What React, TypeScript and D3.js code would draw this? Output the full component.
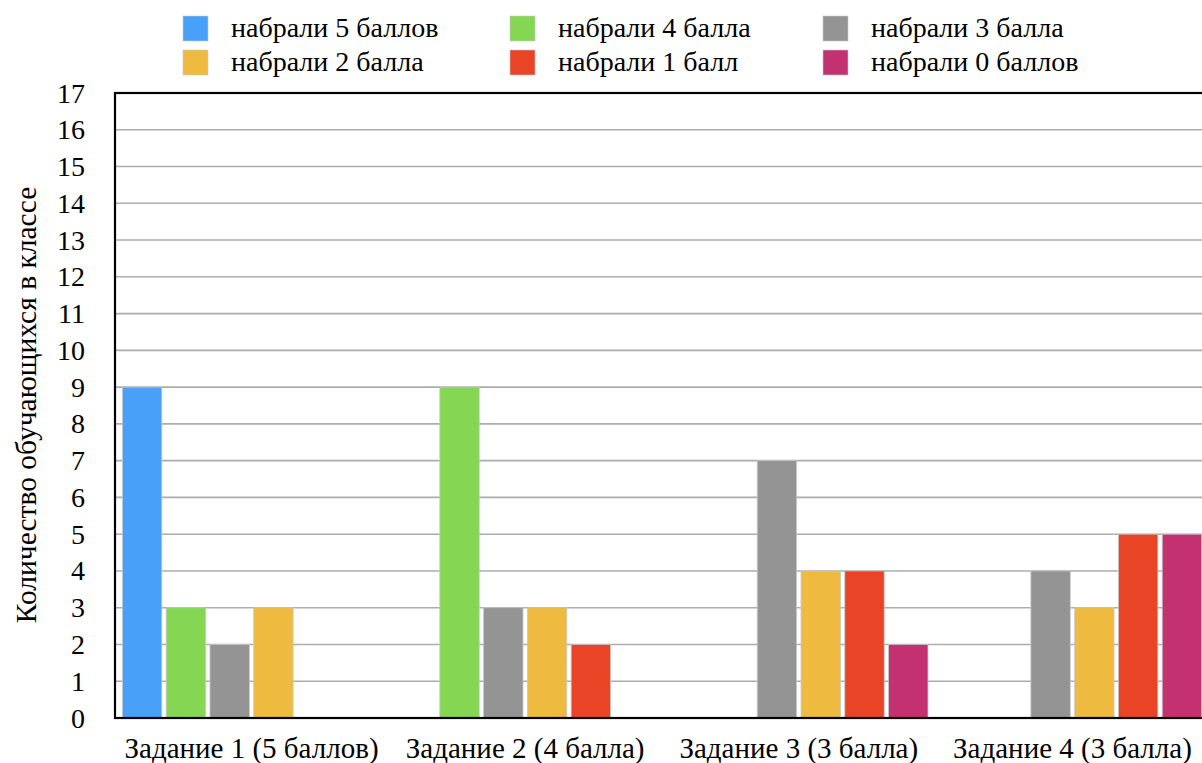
import * as d3 from 'd3';

// ── Data ──────────────────────────────────────────────────────────────────────
const CATEGORIES = [
  'Задание 1 (5 баллов)',
  'Задание 2 (4 балла)',
  'Задание 3 (3 балла)',
  'Задание 4 (3 балла)',
];
const SERIES = [
  'набрали 5 баллов',
  'набрали 4 балла',
  'набрали 3 балла',
  'набрали 2 балла',
  'набрали 1 балл',
  'набрали 0 баллов',
];
const SCORE_5 = [9, 0, 0, 0];
const SCORE_4 = [3, 9, 0, 0];
const SCORE_3 = [2, 3, 7, 4];
const SCORE_2 = [3, 3, 4, 3];
const SCORE_1 = [0, 2, 4, 5];
const SCORE_0 = [0, 0, 2, 5];
const VALUES = [SCORE_5, SCORE_4, SCORE_3, SCORE_2, SCORE_1, SCORE_0];
const Y_TICKS = d3.range(0, 18);
const Y_LABEL = 'Количество обучающихся в классе';

// ── Colors ────────────────────────────────────────────────────────────────────
const COLORS = ['#48a0f8', '#84d653', '#949494', '#eebb40', '#e94426', '#c43170'];
const GRID = '#acacac';
const FONT = "'Liberation Serif', serif";

// ── Layout ────────────────────────────────────────────────────────────────────
const VW = 1202;
const VH = 763;
const PL = 115;
const PR = 1209;
const PT = 93;
const PB = 718;

const txt = (size: number) => ({ fontFamily: FONT, fontSize: size, fill: '#000' });

export default function App() {
  const x0 = d3.scaleBand<string>()
    .domain(CATEGORIES)
    .range([PL, PR])
    .paddingInner(0.056)
    .paddingOuter(0.027);
  const x1 = d3.scaleBand<number>()
    .domain(d3.range(SERIES.length))
    .range([0, x0.bandwidth()])
    .paddingInner(0.1);
  const y = d3.scaleLinear().domain([0, 17]).range([PB, PT]);

  const legendCols = [183, 510, 823];
  const legendRows = [16, 50];

  return (
    <svg
      width={VW}
      height={VH}
      viewBox={`0 0 ${VW} ${VH}`}
      style={{ position: 'absolute', left: 0, top: 0, display: 'block', background: '#fff' }}
    >
      {/* gridlines */}
      {Y_TICKS.filter(t => t > 0 && t < 17).map(t => (
        <line key={t} x1={PL} x2={PR} y1={y(t)} y2={y(t)} stroke={GRID} strokeWidth={1.6} />
      ))}

      {/* y tick labels */}
      {Y_TICKS.map(t => (
        <text key={t} x={85} y={y(t) + 9.5} textAnchor="end" style={txt(28)}>
          {t}
        </text>
      ))}

      {/* bars */}
      {CATEGORIES.map((c, ci) => (
        <g key={c} transform={`translate(${x0(c)},0)`}>
          {VALUES.map((vals, si) => vals[ci] > 0 && (
            <rect
              key={si}
              x={x1(si)}
              y={y(vals[ci])}
              width={x1.bandwidth()}
              height={y(0) - y(vals[ci])}
              fill={COLORS[si]}
              stroke="#c8c8c8"
              strokeWidth={0.8}
            />
          ))}
        </g>
      ))}

      {/* frame */}
      <rect x={PL} y={PT} width={PR - PL} height={PB - PT} fill="none" stroke="#000" strokeWidth={2.2} />

      {/* category labels */}
      {CATEGORIES.map(c => (
        <text
          key={c}
          x={(x0(c) ?? 0) + x0.bandwidth() / 2}
          y={758}
          textAnchor="middle"
          style={txt(29)}
        >
          {c}
        </text>
      ))}

      {/* y axis title */}
      <text transform="translate(36,405) rotate(-90)" textAnchor="middle" style={txt(29.5)}>
        {Y_LABEL}
      </text>

      {/* legend */}
      {SERIES.map((s, i) => {
        const lx = legendCols[i % 3];
        const ly = legendRows[Math.floor(i / 3)];
        return (
          <g key={s} transform={`translate(${lx},${ly})`}>
            <rect x={0} y={0} width={25} height={25} fill={COLORS[i]} stroke="#c8c8c8" strokeWidth={0.6} />
            <text x={48} y={21} style={txt(28)}>{s}</text>
          </g>
        );
      })}
    </svg>
  );
}
